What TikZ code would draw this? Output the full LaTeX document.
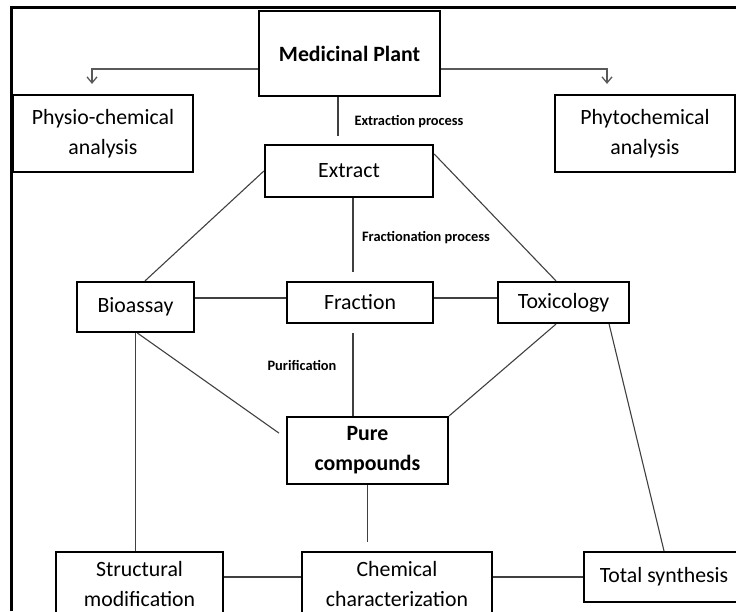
\documentclass[tikz,border=0pt]{standalone}
\usepackage{fontspec}
\setmainfont{Carlito}
\usetikzlibrary{arrows.meta,positioning}

\begin{document}
\begin{tikzpicture}[x=1pt,y=-1pt,
  box/.style={draw=black, line width=2.2pt, inner sep=0pt, align=center,
              font=\fontsize{21.8}{30}\selectfont},
  keybox/.style={box, font=\fontsize{21.8}{30}\selectfont\bfseries},
  link/.style={line width=1.1pt, draw=black!75},
  flow/.style={-{Straight Barb[length=6pt,width=10pt]}, line width=1.3pt,
               draw=black!65, shorten >=10pt},
  note/.style={font=\fontsize{14.4}{16}\selectfont\bfseries}
]
  \useasboundingbox (0,0) rectangle (736,611);
  % frame
  \draw[line width=3pt] (11,611) -- (11,7) -- (736,7);

  \node[keybox, minimum width=181pt, minimum height=85pt] (mp) at (349.5,53.5) {Medicinal Plant};
  \node[box, minimum width=180pt, minimum height=77pt] (pca) at (103,133.5) {Physio-chemical\\analysis};
  \node[box, minimum width=180pt, minimum height=77pt] (phy) at (645,133.5) {Phytochemical\\analysis};
  \node[box, minimum width=168pt, minimum height=52pt] (ex) at (349,171) {Extract};
  \node[box, minimum width=117pt, minimum height=50pt] (bio) at (135.5,307) {Bioassay};
  \node[box, minimum width=146pt, minimum height=41pt] (fr) at (360,302.5) {Fraction};
  \node[box, minimum width=131pt, minimum height=41pt] (tox) at (563.5,302.5) {Toxicology};
  \node[keybox, minimum width=161pt, minimum height=67pt] (pc) at (367.5,450.5) {Pure\\compounds};
  \node[box, minimum width=167pt, minimum height=64pt] (sm) at (139.5,584) {Structural\\modification};
  \node[box, minimum width=190pt, minimum height=64pt] (cc) at (397,584) {Chemical\\characterization};
  \node[box, minimum width=160pt, minimum height=50pt] (ts) at (664,577) {Total synthesis};

  \node[note] (xp) at (409,122) {Extraction process};
  \node[note] (fp) at (426,238) {Fractionation process};
  \node[note] (pu) at (302,365) {Purification};

  % analyses
  \draw[flow] ([yshift=-15.5pt]mp.west) -| ([xshift=-11pt]pca.north);
  \draw[flow] ([yshift=-15.5pt]mp.east) -| ([xshift=-38pt]phy.north);

  % main column
  \draw[link, shorten >=8pt] ([xshift=-11.5pt]mp.south) -- ([xshift=-11.5pt]mp.south |- ex.north);
  \draw[link, shorten >=9pt] ([xshift=4pt]ex.south) -- ([xshift=4pt]ex.south |- fr.north);
  \draw[link, shorten <=9pt] ([xshift=-7pt]fr.south) -- ([xshift=-7pt]fr.south |- pc.north);
  \draw[link, shorten >=9pt] (pc.south) -- (pc.south |- cc.north);

  % side links
  \draw[link] ([yshift=4.5pt]fr.west -| bio.east) -- ([yshift=4.5pt]fr.west);
  \draw[link] ([yshift=4.5pt]fr.east) -- ([yshift=4.5pt]fr.east -| tox.west);
  \draw[link] (ex.west) -- ([xshift=9.5pt]bio.north);
  \draw[link] ([yshift=-10pt]ex.north east) -- ([xshift=-7.5pt]tox.north);
  \draw[link] (bio.south) -- (bio.south |- sm.north);
  \draw[link, shorten >=8.5pt] ([xshift=2pt]bio.south) -- ([yshift=12.5pt]pc.west);
  \draw[link] ([xshift=-7.5pt]tox.south) -- (pc.north east);
  \draw[link] ([xshift=-21pt]tox.south east) -- (ts.north);
  \draw[link] (ts.west -| sm.east) -- (ts.west -| cc.west);
  \draw[link] (ts.west -| cc.east) -- (ts.west);
\end{tikzpicture}
\end{document}
